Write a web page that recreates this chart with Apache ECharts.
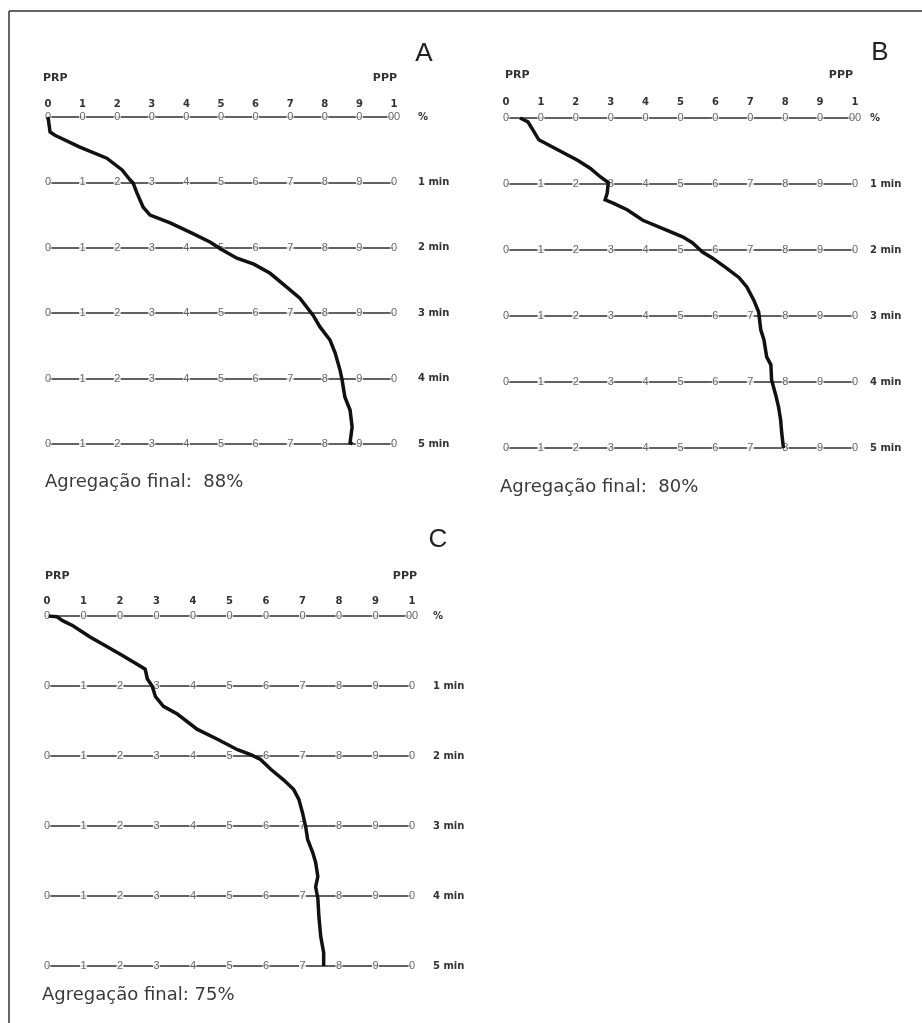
<!DOCTYPE html>
<html>
<head>
<meta charset="utf-8">
<script src="https://cdn.jsdelivr.net/npm/echarts@6/dist/echarts.min.js"></script>
<style>html,body{margin:0;padding:0;background:#fff;}#c{width:922px;height:1023px;}</style>
</head>
<body>
<div id="c"></div>
<script>
// ---- data ----
const panelNames = ['A', 'B', 'C'];
const finalLabels = ['Agregação final:  88%', 'Agregação final:  80%', 'Agregação final: 75%'];
const rowLabels = ['%', '1 min', '2 min', '3 min', '4 min', '5 min'];
const xTicks = [0, 10, 20, 30, 40, 50, 60, 70, 80, 90, 100];
const headerDigits = ['0', '1', '2', '3', '4', '5', '6', '7', '8', '9', '1'];
const percentLineDigits = ['0', '0', '0', '0', '0', '0', '0', '0', '0', '0', '00'];
const minuteLineDigits = ['0', '1', '2', '3', '4', '5', '6', '7', '8', '9', '0'];

// trace A (time in min, aggregation %)
const traceATime = [0, 0.23, 0.28, 0.46, 0.63, 0.81, 0.96, 1.01, 1.16, 1.38, 1.50, 1.62, 1.76, 1.91, 2.03, 2.16, 2.25, 2.39, 2.60, 2.77, 3.03, 3.21, 3.41, 3.61, 3.87, 4.02, 4.28, 4.48, 4.74, 4.98, 5.0];
const traceAPct  = [0, 0.6, 2, 9.2, 17, 21.4, 23.7, 24.6, 25.7, 27.5, 29.5, 35.3, 41, 46.8, 50.3, 54.6, 59.5, 64.2, 69, 72.8, 76.6, 78.6, 81.5, 83, 84.4, 85, 85.8, 87.3, 87.9, 87.3, 88];
// trace B
const traceBTime = [0, 0.06, 0.18, 0.33, 0.48, 0.64, 0.76, 0.89, 0.98, 1.14, 1.24, 1.29, 1.39, 1.55, 1.70, 1.80, 1.89, 2.03, 2.12, 2.27, 2.42, 2.56, 2.76, 2.94, 3.21, 3.36, 3.62, 3.74, 3.97, 4.20, 4.38, 4.58, 4.77, 5.0];
const traceBPct  = [4, 6.3, 7.7, 9.4, 14.8, 20.5, 24.1, 27, 29.3, 29, 28.4, 30.7, 34.7, 39.2, 46, 50.6, 53.4, 56.3, 59.1, 63.1, 66.8, 69, 71, 72.4, 73, 73.9, 74.7, 75.9, 76.1, 77.3, 78.1, 78.7, 79, 79.5];
// trace C
const traceCTime = [0, 0.01, 0.07, 0.14, 0.30, 0.44, 0.57, 0.69, 0.76, 0.90, 1.00, 1.15, 1.29, 1.40, 1.62, 1.76, 1.91, 1.98, 2.05, 2.19, 2.34, 2.48, 2.62, 2.81, 3.02, 3.19, 3.38, 3.52, 3.72, 3.87, 4.03, 4.30, 4.58, 4.81, 5.0];
const traceCPct  = [0.5, 2.7, 4.4, 7.1, 11.8, 16.5, 20.9, 24.7, 26.9, 27.5, 28.8, 29.7, 31.9, 35.7, 41.2, 46.7, 52.2, 55.8, 58.5, 61.3, 64.8, 67.6, 69, 70, 70.9, 71.4, 72.8, 73.6, 74.2, 73.6, 74.2, 74.5, 75, 75.8, 75.8];

// ---- layout ----
const traces = [[traceATime, traceAPct], [traceBTime, traceBPct], [traceCTime, traceCPct]];
const grids = [
  { left: 48, top: 117, width: 346, height: 327 },
  { left: 506, top: 118, width: 349, height: 330 },
  { left: 47, top: 616, width: 365, height: 350 }
];
const rightMargins = [24, 15, 21];
const headMargins = [8, 11, 10];

const chart = echarts.init(document.getElementById('c'), null, { renderer: 'canvas' });

const xAxes = [], yAxes = [], series = [];
grids.forEach((g, k) => {
  xAxes.push({
    type: 'value', gridIndex: k, position: 'top', min: 0, max: 100, interval: 10,
    axisLine: { show: false }, axisTick: { show: false }, splitLine: { show: false },
    axisLabel: {
      margin: headMargins[k], color: '#333', fontSize: 10, fontWeight: 'bold',
      fontFamily: 'DejaVu Sans',
      formatter: v => headerDigits[xTicks.indexOf(v)]
    }
  });
  yAxes.push({
    type: 'value', gridIndex: k, position: 'right', inverse: true, min: 0, max: 5, interval: 1,
    axisLine: { show: false }, axisTick: { show: false },
    splitLine: { show: true, lineStyle: { color: '#2e2e2e', width: 1.5 } },
    axisLabel: {
      margin: rightMargins[k], color: '#333', fontSize: 10, fontWeight: 'bold',
      fontFamily: 'DejaVu Sans', align: 'left',
      formatter: v => rowLabels[v]
    }
  });
  // digits on the lines
  const digitData = [];
  rowLabels.forEach((r, ri) => {
    const digits = ri === 0 ? percentLineDigits : minuteLineDigits;
    xTicks.forEach((x, xi) => digitData.push([x, ri, digits[xi]]));
  });
  series.push({
    type: 'scatter', xAxisIndex: k, yAxisIndex: k, symbolSize: 0, z: 2, silent: true,
    data: digitData,
    label: {
      show: true, position: 'inside', formatter: p => p.data[2],
      color: '#404040', fontSize: 11, fontFamily: 'Liberation Sans',
      backgroundColor: '#fff', padding: [0, 0.5], lineHeight: 10
    }
  });
  const [tArr, pArr] = traces[k];
  series.push({
    type: 'line', xAxisIndex: k, yAxisIndex: k, z: 5, silent: true,
    showSymbol: false, symbol: 'none', smooth: false,
    data: tArr.map((t, i) => [pArr[i], t]),
    lineStyle: { color: '#111', width: 3.5, join: 'miter' }
  });
});

const textStyleBase = { fill: '#333', fontFamily: 'DejaVu Sans' };
const graphics = [
  { type: 'line', shape: { x1: 9, y1: 11, x2: 922, y2: 11 }, style: { stroke: '#333', lineWidth: 1.5 } },
  { type: 'line', shape: { x1: 9, y1: 11, x2: 9, y2: 1023 }, style: { stroke: '#333', lineWidth: 1.5 } }
];
const letterPos = [[424, 54], [880, 53], [438, 540]];
const prpPos = [[43, 78, 397], [505, 75, 853], [45, 576, 417]];
const finalPos = [[45, 482], [500, 487], [42, 995]];
panelNames.forEach((n, k) => {
  graphics.push({ type: 'text', x: letterPos[k][0], y: letterPos[k][1],
    style: { text: n, fill: '#222', fontSize: 26, fontFamily: 'Liberation Sans', align: 'center', verticalAlign: 'middle' } });
  graphics.push({ type: 'text', x: prpPos[k][0], y: prpPos[k][1],
    style: Object.assign({}, textStyleBase, { text: 'PRP', fontSize: 11, fontWeight: 'bold', align: 'left', verticalAlign: 'middle' }) });
  graphics.push({ type: 'text', x: prpPos[k][2], y: prpPos[k][1],
    style: Object.assign({}, textStyleBase, { text: 'PPP', fontSize: 11, fontWeight: 'bold', align: 'right', verticalAlign: 'middle' }) });
  graphics.push({ type: 'text', x: finalPos[k][0], y: finalPos[k][1],
    style: Object.assign({}, textStyleBase, { text: finalLabels[k], fontSize: 18, fill: '#3a3a3a', align: 'left', verticalAlign: 'middle' }) });
});

chart.setOption({
  animation: false,
  backgroundColor: '#fff',
  grid: grids.map(g => Object.assign({ containLabel: false }, g)),
  xAxis: xAxes,
  yAxis: yAxes,
  series: series,
  graphic: graphics
});
</script>
</body>
</html>
